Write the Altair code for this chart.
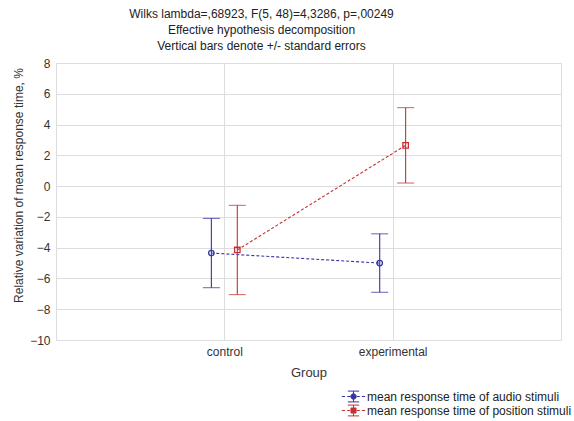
import altair as alt
import pandas as pd

groups = ["control", "experimental"]
series_names = ["mean response time of audio stimuli", "mean response time of position stimuli"]
audio_mean = [-4.35, -5.0]
audio_se = [2.25, 1.9]
position_mean = [-4.15, 2.65]
position_se = [2.9, 2.45]
y_ticks = [-10, -8, -6, -4, -2, 0, 2, 4, 6, 8]

title_lines = [
    "Wilks lambda=,68923, F(5, 48)=4,3286, p=,00249",
    "Effective hypothesis decomposition",
    "Vertical bars denote +/- standard errors",
]

rows = []
for i, g in enumerate(groups):
    rows.append({"group": g, "gi": i + 1, "series": series_names[0], "mean": audio_mean[i], "se": audio_se[i], "side": -1})
    rows.append({"group": g, "gi": i + 1, "series": series_names[1], "mean": position_mean[i], "se": position_se[i], "side": 1})
df = pd.DataFrame(rows)

BLUE = "#3535a5"
RED = "#c83030"
FONT = "Liberation Sans"

color_scale = alt.Scale(domain=series_names, range=[BLUE, RED])

dash = "M-1.95,0H-1.4M-1.05,0H-0.55M0.55,0H1.05M1.4,0H1.95"
bar = "M0,-0.9V-0.45M0,0.45V0.9M-0.95,-0.9H0.95M-0.95,0.9H0.95"
circ = "M0.45,0A0.45,0.45,0,1,1,-0.45,0A0.45,0.45,0,1,1,0.45,0Z"
sq = "M-0.42,-0.42H0.42V0.42H-0.42Z"
legend_shapes = [dash + bar + circ, dash + bar + sq]

legend_def = alt.Legend(
    title=None,
    orient="none",
    legendX=291,
    legendY=327,
    labelFontSize=12,
    labelColor="#222",
    labelFont=FONT,
    labelLimit=400,
    symbolOpacity=1,
    symbolSize=144,
    symbolStrokeWidth=1,
    symbolFillColor="transparent",
    labelOffset=7,
    rowPadding=-3,
)

base = alt.Chart(df).transform_calculate(
    xpos="datum.gi + datum.side * 0.077",
    lo="datum.mean - datum.se",
    hi="datum.mean + datum.se",
)

x_axis = alt.Axis(
    values=[1, 2],
    labelExpr="datum.value == 1 ? 'control' : (datum.value == 2 ? 'experimental' : '')",
    title="Group",
    titleFontSize=13,
    titleFontWeight="normal",
    titleColor="#333",
    titlePadding=9,
    labelFontSize=12,
    labelColor="#333",
    labelPadding=6,
    tickSize=0,
    domain=False,
    gridColor="#dddddd",
    labelFont=FONT,
    titleFont=FONT,
    labelOverlap=False,
)
y_axis = alt.Axis(
    values=y_ticks,
    title="Relative variation of mean response time, %",
    titleFontSize=12,
    titleFontWeight="normal",
    titleColor="#333",
    titleAngle=270,
    titleX=-38,
    titleY=122,
    titleAlign="center",
    titleBaseline="middle",
    labelFontSize=12,
    labelColor="#333",
    labelPadding=6,
    tickSize=0,
    domain=False,
    gridColor="#dddddd",
    labelFont=FONT,
    titleFont=FONT,
    labelOverlap=False,
    labelBound=False,
)
x_scale = alt.Scale(domain=[0, 3], nice=False, zero=False)
y_scale = alt.Scale(domain=[-10, 8], nice=False, zero=False)


def X():
    return alt.X("xpos:Q", scale=x_scale, axis=x_axis)


def Y(field):
    return alt.Y(field, scale=y_scale, axis=y_axis, title="Relative variation of mean response time, %")


color_enc = alt.Color("series:N", scale=color_scale, legend=legend_def)
shape_enc = alt.Shape("series:N", scale=alt.Scale(domain=series_names, range=legend_shapes), legend=legend_def)

legend_layer = base.mark_point(opacity=0, filled=False, size=144).encode(
    x=X(),
    y=Y("mean:Q"),
    color=color_enc,
    shape=shape_enc,
)

lines = base.mark_line(strokeDash=[3, 2], strokeWidth=1.1).encode(
    x=X(),
    y=Y("mean:Q"),
    color=color_enc,
    detail="series:N",
    order="gi:Q",
)

rules = base.mark_rule(strokeWidth=1.1).encode(
    x=X(),
    y=Y("lo:Q"),
    y2="hi:Q",
    color=color_enc,
)

caps = base.transform_fold(["lo", "hi"], as_=["cap", "capval"]).mark_tick(
    orient="horizontal", size=17, thickness=1.1
).encode(
    x=X(),
    y=Y("capval:Q"),
    color=color_enc,
)

pts_audio = base.transform_filter(alt.datum.side == -1).mark_point(
    shape="circle", size=30, filled=False, strokeWidth=1.3, opacity=1
).encode(x=X(), y=Y("mean:Q"), color=color_enc)

pts_pos = base.transform_filter(alt.datum.side == 1).mark_point(
    shape="square", size=30, filled=False, strokeWidth=1.3, opacity=1
).encode(x=X(), y=Y("mean:Q"), color=color_enc)

chart = alt.layer(legend_layer, lines, rules, caps, pts_audio, pts_pos).properties(
    width=505,
    height=277,
    padding={"left": 56, "top": 63, "right": 13, "bottom": 81},
    autosize="none",
    title=alt.TitleParams(
        text=title_lines,
        fontSize=12,
        fontWeight="normal",
        font=FONT,
        color="#222",
        lineHeight=16,
        anchor="middle",
        dx=-47,
        offset=4,
    ),
).configure_view(stroke="#333", strokeWidth=1).configure(background="white")

chart.save("out.html", embed_options={"renderer": "svg", "actions": False})
